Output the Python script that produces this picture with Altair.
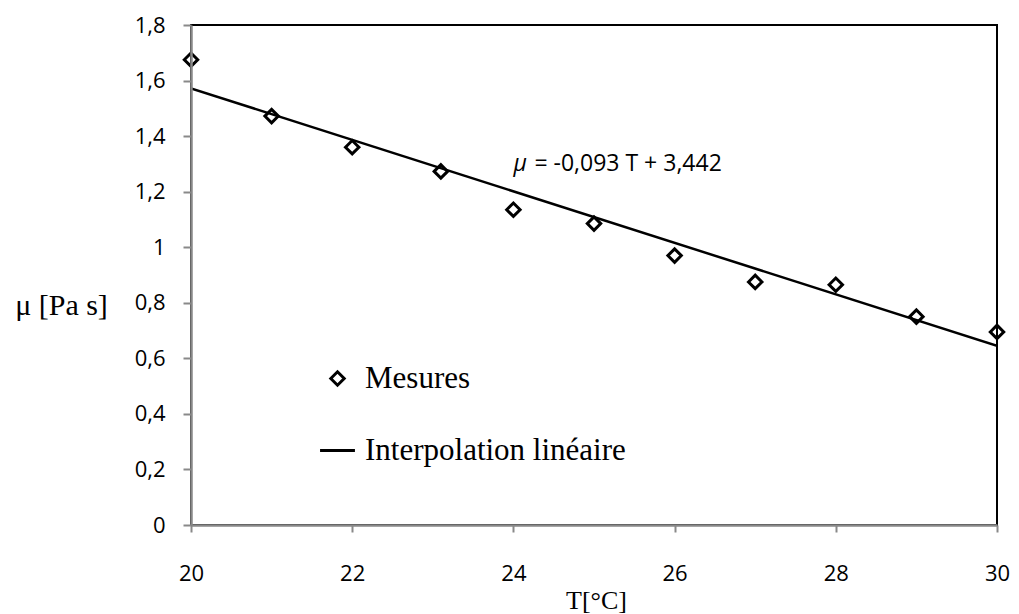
import altair as alt
import pandas as pd

# Measured data
T_mes = [20, 21, 22, 23.1, 24, 25, 26, 27, 28, 29, 30]
mu_mes = [1.675, 1.472, 1.360, 1.273, 1.135, 1.085, 0.970, 0.875, 0.865, 0.750, 0.695]

# Linear interpolation endpoints
T_lin = [20, 30]
mu_lin = [1.572, 0.645]

series = ["Mesures", "Interpolation linéaire"]
x_ticks = [20, 22, 24, 26, 28, 30]
y_ticks = [0, 0.2, 0.4, 0.6, 0.8, 1.0, 1.2, 1.4, 1.6, 1.8]

df_pts = pd.DataFrame({"T": T_mes, "mu": mu_mes, "series": series[0]})
df_lin = pd.DataFrame({"T": T_lin, "mu": mu_lin})

xscale = alt.Scale(domain=[20, 30], nice=False, zero=False)
yscale = alt.Scale(domain=[0, 1.8], nice=False)

xaxis = alt.Axis(
    values=x_ticks, grid=False, title="T[°C]", format="d", labelFlush=False,
    titleFont="Liberation Serif", titleFontSize=26, titleFontWeight="normal",
    titleColor="black", titleX=405, titleY=75, titleAlign="center", titleBaseline="middle",
    labelFont="Open Sans", labelFontSize=22, labelColor="black", labelPadding=31,
    domainColor="#898989", domainWidth=2.5, tickColor="#898989", tickWidth=2, tickSize=7,
    zindex=1,
)
yaxis = alt.Axis(
    values=y_ticks, grid=False, title="μ [Pa s]", labelFlush=False,
    labelExpr="replace(toString(round(datum.value*10)/10), '.', ',')",
    titleFont="Liberation Serif", titleFontSize=30, titleFontWeight="normal",
    titleColor="black", titleAngle=0, titleX=-130, titleY=280,
    titleAlign="center", titleBaseline="middle",
    labelFont="Open Sans", labelFontSize=22, labelColor="black", labelPadding=18,
    domainColor="#898989", domainWidth=2.5, tickColor="#898989", tickWidth=2, tickSize=8,
    zindex=1,
)

base_x = alt.X("T:Q", scale=xscale, axis=xaxis)
base_y = alt.Y("mu:Q", scale=yscale, axis=yaxis)

line = alt.Chart(df_lin).mark_line(color="black", strokeWidth=2.5, clip=True).encode(
    x=base_x, y=base_y
)

points = alt.Chart(df_pts).mark_point(
    filled=False, stroke="black", strokeWidth=3, size=180, opacity=1
).encode(
    x=alt.X("T:Q", scale=xscale),
    y=alt.Y("mu:Q", scale=yscale),
    shape=alt.Shape(
        "series:N",
        scale=alt.Scale(domain=series, range=["diamond", "M-2.6,0L2.6,0"]),
        legend=alt.Legend(
            title=None, orient="none", legendX=131, legendY=338,
            labelFont="Liberation Serif", labelFontSize=31, labelColor="black",
            labelOffset=12, rowPadding=40, labelLimit=500,
            symbolStrokeColor="black", symbolFillColor="white",
            symbolStrokeWidth=3, symbolSize=180, symbolOpacity=1,
        ),
    ),
)

eq_mu = alt.Chart().mark_text(
    text="μ", font="Open Sans", fontSize=23, fontStyle="italic",
    align="left", baseline="middle", color="black"
).encode(x=alt.datum(24.0), y=alt.datum(1.30))

eq_rest = alt.Chart().mark_text(
    text="= -0,093 T + 3,442", font="Open Sans", fontSize=23,
    align="left", baseline="middle", color="black", dx=21
).encode(x=alt.datum(24.0), y=alt.datum(1.30))

chart = alt.layer(line, points, eq_mu, eq_rest).properties(
    width=806, height=500,
    autosize=alt.AutoSizeParams(type="none"),
    padding={"left": 183, "top": 17, "right": 14, "bottom": 88},
).configure_view(stroke="black", strokeWidth=2)

chart.save("out.html", embed_options={"renderer": "svg", "actions": False})
